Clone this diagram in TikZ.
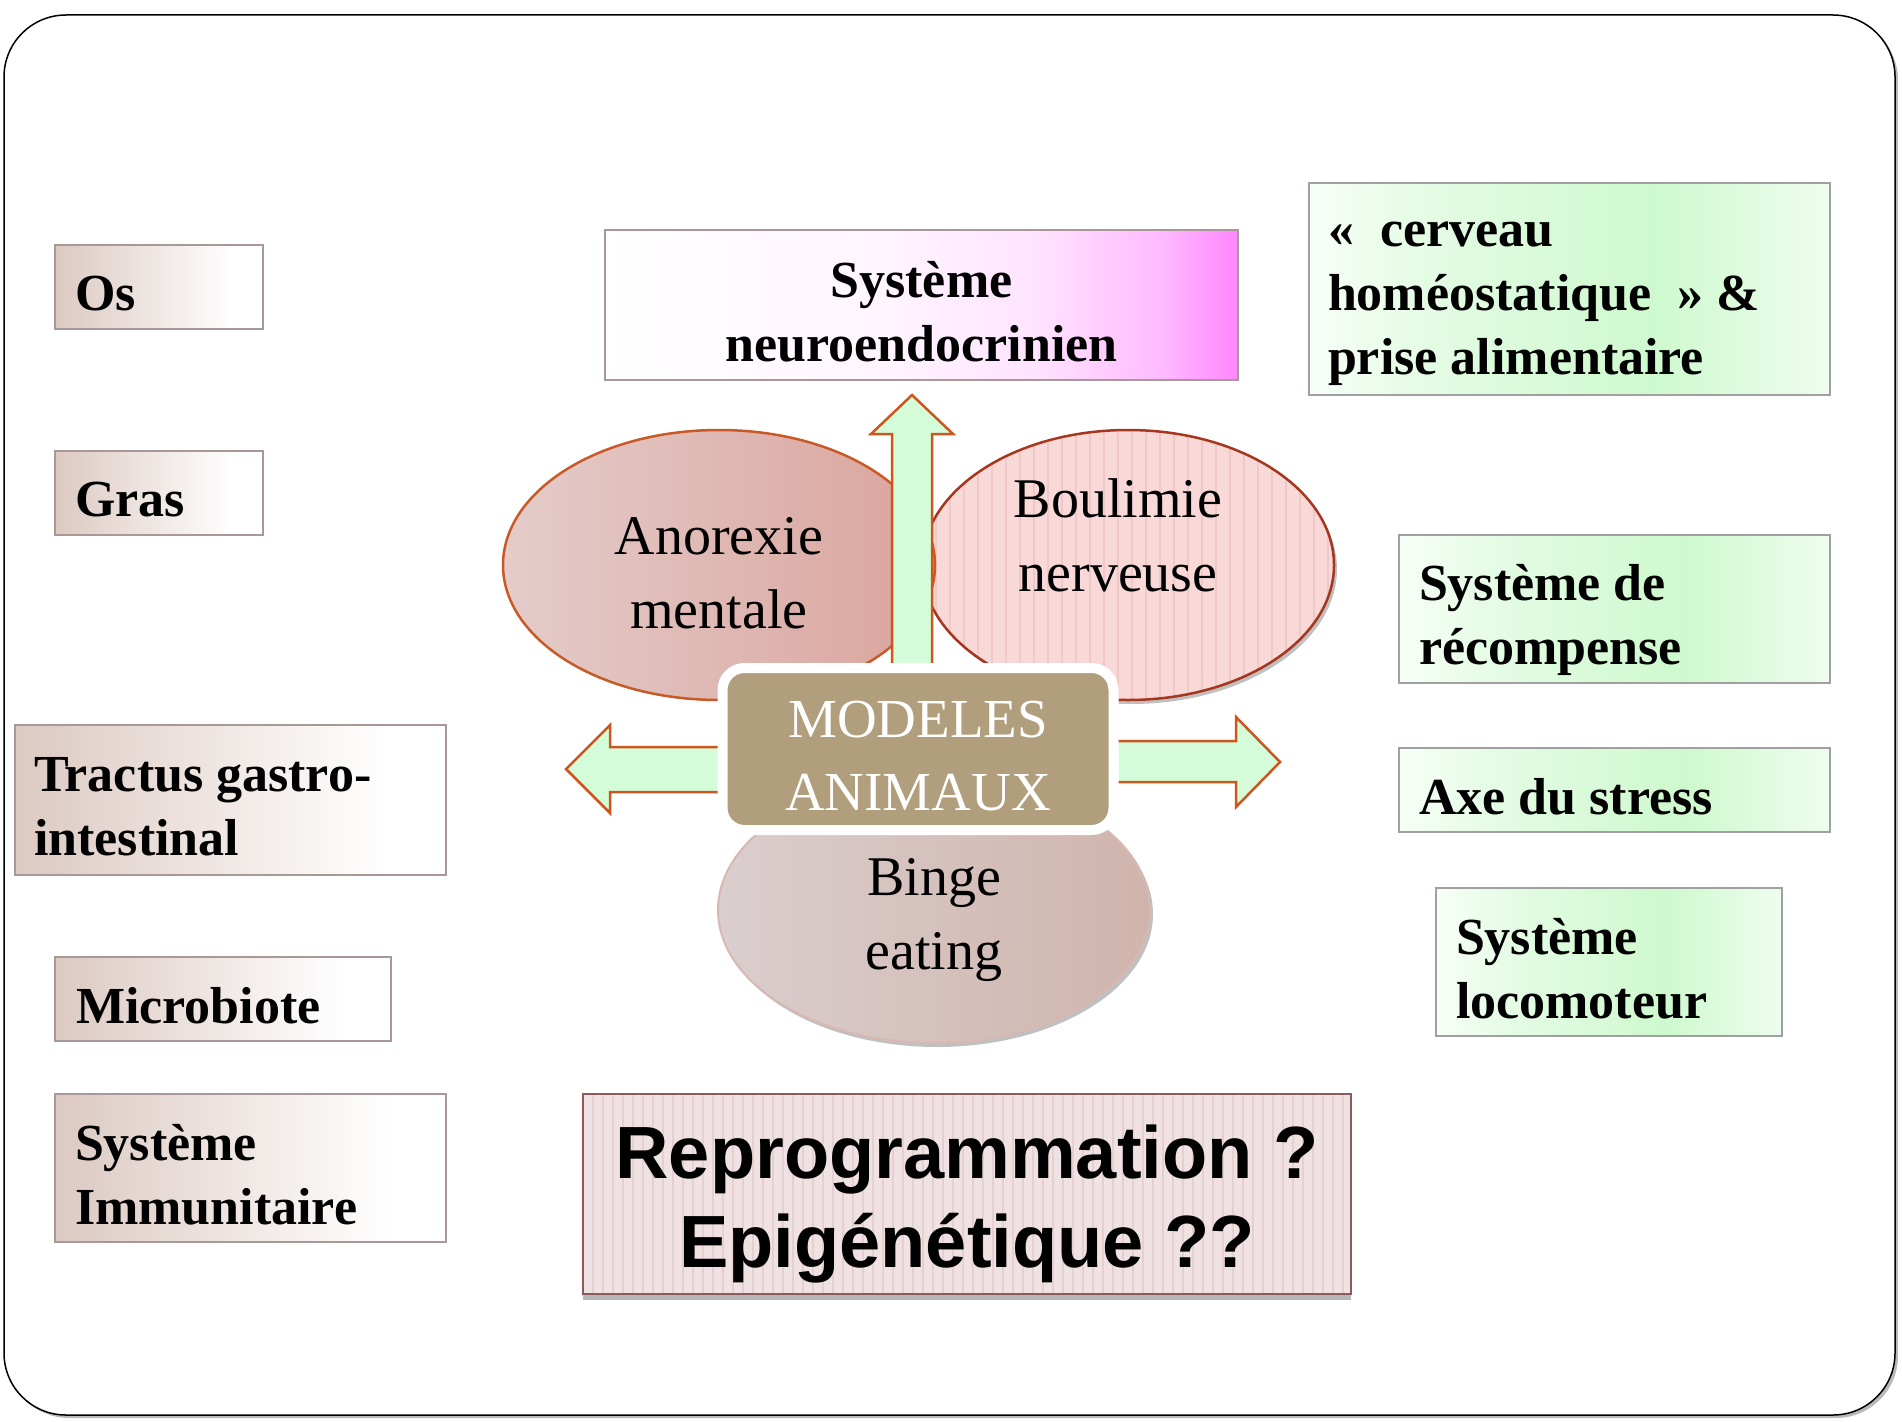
\documentclass[tikz,border=0pt]{standalone}
\usepackage{fontspec}
\setmainfont{Liberation Serif}
\newfontfamily\headsans{Liberation Sans}
\usetikzlibrary{shapes.geometric,shadows}

% palette
\definecolor{lboxc}{RGB}{220,201,194}
\definecolor{lboxline}{RGB}{168,152,152}
\definecolor{grn}{RGB}{206,249,206}
\definecolor{grnline}{RGB}{160,160,160}
\definecolor{mag}{RGB}{255,128,255}
\definecolor{anoL}{RGB}{228,204,202}
\definecolor{anoR}{RGB}{218,164,156}
\definecolor{anoline}{RGB}{200,90,40}
\definecolor{bouf}{RGB}{249,216,216}
\definecolor{boustripe}{RGB}{240,200,200}
\definecolor{bouline}{RGB}{165,55,30}
\definecolor{binL}{RGB}{218,206,206}
\definecolor{binR}{RGB}{208,180,172}
\definecolor{binline}{RGB}{215,185,178}
\definecolor{tan}{RGB}{176,158,124}
\definecolor{arrf}{RGB}{212,252,216}
\definecolor{arrline}{RGB}{205,85,30}
\definecolor{repf}{RGB}{240,226,226}
\definecolor{repstripe}{RGB}{228,208,208}
\definecolor{repline}{RGB}{140,90,90}

% TikZ fits the middle 25bp--75bp of a shading to the filled shape
\pgfdeclarehorizontalshading{leftfade}{100bp}{color(0bp)=(lboxc); color(25bp)=(lboxc); color(68bp)=(white); color(100bp)=(white)}
\pgfdeclarehorizontalshading{greenfade}{100bp}{color(0bp)=(white); color(25bp)=(grn!15); color(36bp)=(grn!55); color(58bp)=(grn); color(75bp)=(grn!35); color(100bp)=(grn!35)}
\pgfdeclarehorizontalshading{magfade}{100bp}{color(0bp)=(white); color(25bp)=(white); color(47bp)=(mag!8); color(59bp)=(mag!22); color(69bp)=(mag!55); color(75bp)=(mag!95); color(100bp)=(mag!95)}

\begin{document}
\begin{tikzpicture}[x=1pt,y=-1pt,
  every node/.style={inner sep=0pt, outer sep=0pt},
  labelfont/.style={font=\fontsize{52}{64}\selectfont\bfseries},
  boxtext/.style={labelfont, anchor=west, align=left},
  leftbox/.style={rectangle, draw=lboxline, line width=2.5pt,
    shading=leftfade, anchor=north west},
  greenbox/.style={rectangle, draw=grnline, line width=2.5pt,
    shading=greenfade, anchor=north west},
  ellfont/.style={font=\fontsize{56}{74}\selectfont, align=center},
  blockarrow/.style={fill=arrf, draw=arrline, line width=2.5pt, line join=miter},
  softshadow/.style={drop shadow={shadow xshift=3pt, shadow yshift=-4pt, opacity=0.35, fill=black!70}}
]
\useasboundingbox (0,0) rectangle (1902,1421);

% slide frame
\path[draw=black, line width=1.5pt, fill=white, rounded corners=62pt,
  drop shadow={shadow xshift=3pt, shadow yshift=-3pt, opacity=0.45, fill=black!60}]
  (4,15) rectangle (1895,1415);

% left column
\node[leftbox, minimum width=208pt, minimum height=84pt] (os) at (55,245) {};
\node[boxtext] (ostext) at ([xshift=20pt, yshift=-7pt]os.west) {Os};
\node[leftbox, minimum width=208pt, minimum height=84pt] (gras) at (55,451) {};
\node[boxtext] (grastext) at ([xshift=20pt, yshift=-7pt]gras.west) {Gras};
\node[leftbox, minimum width=431pt, minimum height=150pt] (tractus) at (15,725) {};
\node[boxtext] (tractustext) at ([xshift=19pt, yshift=-7pt]tractus.west) {Tractus gastro-\\intestinal};
\node[leftbox, minimum width=336pt, minimum height=84pt] (microbiote) at (55,957) {};
\node[boxtext] (microtext) at ([xshift=21pt, yshift=-7pt]microbiote.west) {Microbiote};
\node[leftbox, minimum width=391pt, minimum height=148pt] (immun) at (55,1094) {};
\node[boxtext] (immuntext) at ([xshift=20pt, yshift=-7pt]immun.west) {Système\\Immunitaire};

% top box
\node[rectangle, draw=lboxline, line width=2.5pt, shading=magfade,
  minimum width=633pt, minimum height=150pt, anchor=north west] (neuro) at (605,230) {};
\node[labelfont, align=center] (neurotext) at ([yshift=-7pt]neuro.center) {Système\\neuroendocrinien};

% right column
\node[greenbox, minimum width=521pt, minimum height=212pt] (cerveau) at (1309,183) {};
\node[boxtext] (cerveautext) at ([xshift=19pt, yshift=-15pt]cerveau.west)
  {«\ \ cerveau\\homéostatique\ \ » \&\\prise alimentaire};
\node[greenbox, minimum width=431pt, minimum height=148pt] (recomp) at (1399,535) {};
\node[boxtext] (recomptext) at ([xshift=20pt, yshift=-11pt]recomp.west) {Système de\\récompense};
\node[greenbox, minimum width=431pt, minimum height=84pt] (axe) at (1399,748) {};
\node[boxtext] (axetext) at ([xshift=20pt, yshift=-7pt]axe.west) {Axe du stress};
\node[greenbox, minimum width=346pt, minimum height=148pt] (loco) at (1436,888) {};
\node[boxtext] (locotext) at ([xshift=20pt, yshift=-7pt]loco.west) {Système\\locomoteur};

% eating-disorder ellipses
\node[ellipse, minimum width=412pt, minimum height=270pt, fill=bouf, draw=bouline,
  line width=2.5pt, softshadow,
  path picture={\foreach \k in {0,...,32}
    \draw[boustripe, line width=1.5pt]
      ([xshift=\k*14pt]path picture bounding box.south west) --
      ([xshift=\k*14pt]path picture bounding box.north west);}]
  (boulimie) at (1128,565) {};
\node[ellipse, minimum width=432pt, minimum height=270pt, left color=anoL, right color=anoR,
  draw=anoline, line width=2.5pt] (anorexie) at (719,565) {};
\node[ellipse, minimum width=432pt, minimum height=266pt, left color=binL, right color=binR,
  draw=binline, line width=2pt, softshadow] (binge) at (934,910) {};

\node[ellfont] (anotext) at (719,573) {Anorexie\\mentale};
\node[ellfont] (boutext) at (1118,535) {Boulimie\\nerveuse};
\node[ellfont] (bintext) at (934,920) {Binge\\eating};

% block arrows out of the centre
\draw[blockarrow] (892,680) -- (892,434) -- (871,434) -- (912,395) -- (953,434)
  -- (932,434) -- (932,680) -- cycle;
\draw[blockarrow] (730,747) -- (610,747) -- (610,725) -- (566,769) -- (610,813)
  -- (610,792) -- (730,792) -- cycle;
\draw[blockarrow] (1105,741) -- (1236,741) -- (1236,717) -- (1280,762) -- (1236,807)
  -- (1236,782) -- (1105,782) -- cycle;

% centre box
\node[rectangle, rounded corners=22pt, fill=tan, draw=white, line width=10pt,
  minimum width=391pt, minimum height=162pt,
  drop shadow={shadow xshift=2pt, shadow yshift=-3pt, opacity=0.25, fill=black!60}]
  (modeles) at (918,749) {};
\node[text=white, align=center, font=\fontsize{55}{73}\selectfont]
  (modelestext) at ([yshift=-7pt]modeles.center) {MODELES\\ANIMAUX};

% bottom question box
\node[rectangle, fill=repf, draw=repline, line width=2.5pt,
  minimum width=768pt, minimum height=200pt,
  drop shadow={shadow xshift=0pt, shadow yshift=-6pt, opacity=0.4, fill=black!70},
  path picture={\foreach \k in {0,...,77}
    \draw[repstripe, line width=1.5pt]
      ([xshift=\k*10pt]path picture bounding box.south west) --
      ([xshift=\k*10pt]path picture bounding box.north west);}]
  (reprog) at (967,1194) {};
\node[align=center, font=\headsans\bfseries\fontsize{74}{89}\selectfont]
  (reprogtext) at ([yshift=-10pt]reprog.center) {Reprogrammation ?\\Epigénétique ??};

\end{tikzpicture}
\end{document}
